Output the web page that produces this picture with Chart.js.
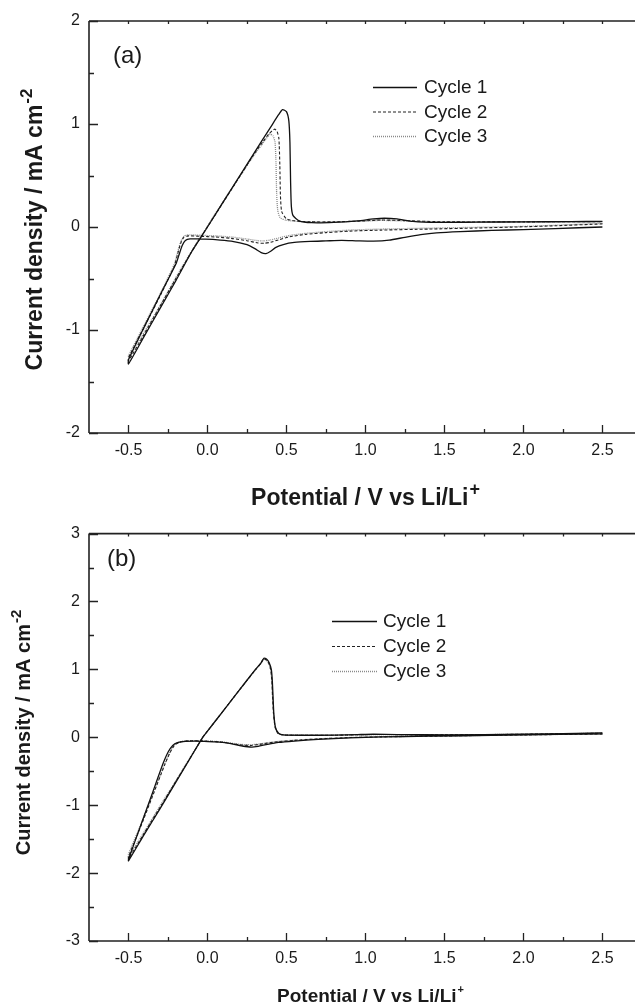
<!DOCTYPE html>
<html lang="en">
<head>
  <meta charset="UTF-8">
  <title>Cyclic voltammograms</title>
  <script src="https://cdn.jsdelivr.net/npm/chart.js"></script>
  <style>
    body {
      margin: 0;
      background: #fff;
      width: 635px;
      height: 1005px;
      overflow: hidden;
      position: relative;
    }
    canvas {
      position: absolute;
      left: 0;
    }
    #chartA { top: 0; }
    #chartB { top: 515px; }
  </style>
</head>
<body>
  <canvas id="chartA" width="635" height="515"></canvas>
  <canvas id="chartB" width="635" height="490"></canvas>

  <script>
    const cycleNames = ['Cycle 1', 'Cycle 2', 'Cycle 3'];
    const xTickValues = [-0.5, -0.25, 0, 0.25, 0.5, 0.75, 1, 1.25, 1.5, 1.75, 2, 2.25, 2.5];
    const yTickValuesA = [-2, -1.5, -1, -0.5, 0, 0.5, 1, 1.5, 2];
    const yTickValuesB = [-3, -2.5, -2, -1.5, -1, -0.5, 0, 0.5, 1, 1.5, 2, 2.5, 3];

    // [potential V, current mA cm-2], cathodic scan from 2.5 V then anodic back
    const a1 = [
      [2.5, 0.0], [2.2, -0.015], [2.0, -0.025], [1.8, -0.033], [1.6, -0.045], [1.45, -0.058], [1.35, -0.075],
      [1.25, -0.1], [1.15, -0.128], [1.05, -0.138], [0.95, -0.135], [0.85, -0.13], [0.75, -0.135], [0.65, -0.14],
      [0.55, -0.15], [0.48, -0.17], [0.43, -0.2], [0.4, -0.235], [0.37, -0.258], [0.34, -0.248], [0.3, -0.21],
      [0.25, -0.172], [0.15, -0.138], [0.05, -0.122], [-0.05, -0.116], [-0.11, -0.115], [-0.14, -0.13],
      [-0.16, -0.18], [-0.18, -0.27], [-0.2, -0.36], [-0.3, -0.66], [-0.4, -0.97], [-0.5, -1.29],
      [-0.5, -1.33], [-0.4, -1.06], [-0.3, -0.79], [-0.2, -0.52], [-0.1, -0.24], [0.0, 0.0], [0.1, 0.244],
      [0.2, 0.486], [0.3, 0.73], [0.4, 0.97], [0.45, 1.09], [0.475, 1.14], [0.5, 1.12], [0.515, 1.03],
      [0.522, 0.82], [0.526, 0.45], [0.531, 0.2], [0.542, 0.11], [0.58, 0.06], [0.66, 0.042], [0.8, 0.045],
      [0.95, 0.06], [1.05, 0.078], [1.12, 0.085], [1.2, 0.078], [1.3, 0.055], [1.45, 0.045], [1.7, 0.047],
      [2.0, 0.05], [2.3, 0.052], [2.5, 0.055]
    ];
    const a2 = [
      [2.5, 0.03], [2.2, 0.012], [2.0, 0.002], [1.7, -0.01], [1.4, -0.02], [1.1, -0.03], [0.9, -0.04],
      [0.75, -0.055], [0.62, -0.072], [0.52, -0.095], [0.45, -0.125], [0.4, -0.148], [0.36, -0.158],
      [0.32, -0.155], [0.25, -0.133], [0.15, -0.11], [0.05, -0.097], [-0.05, -0.09], [-0.12, -0.086],
      [-0.15, -0.1], [-0.17, -0.16], [-0.19, -0.27], [-0.21, -0.38], [-0.3, -0.67], [-0.4, -0.97], [-0.5, -1.27],
      [-0.5, -1.3], [-0.4, -1.04], [-0.3, -0.77], [-0.2, -0.5], [-0.1, -0.24], [0.0, 0.0], [0.1, 0.24],
      [0.2, 0.48], [0.3, 0.72], [0.35, 0.825], [0.39, 0.905], [0.424, 0.95], [0.44, 0.93], [0.452, 0.86],
      [0.458, 0.6], [0.462, 0.3], [0.47, 0.15], [0.5, 0.08], [0.55, 0.06], [0.65, 0.05], [0.8, 0.05],
      [1.0, 0.06], [1.1, 0.068], [1.25, 0.062], [1.5, 0.05], [2.0, 0.05], [2.5, 0.052]
    ];
    const a3 = [
      [2.5, 0.035], [2.0, 0.006], [1.5, -0.008], [1.1, -0.02], [0.9, -0.03], [0.75, -0.045], [0.62, -0.062],
      [0.52, -0.082], [0.45, -0.107], [0.4, -0.125], [0.36, -0.135], [0.32, -0.133], [0.25, -0.117],
      [0.15, -0.097], [0.05, -0.086], [-0.05, -0.08], [-0.12, -0.076], [-0.15, -0.09], [-0.17, -0.145],
      [-0.19, -0.25], [-0.21, -0.36], [-0.3, -0.65], [-0.4, -0.95], [-0.5, -1.25],
      [-0.5, -1.27], [-0.4, -1.02], [-0.3, -0.76], [-0.2, -0.49], [-0.1, -0.23], [0.0, 0.01], [0.1, 0.25],
      [0.2, 0.48], [0.3, 0.71], [0.34, 0.79], [0.37, 0.855], [0.397, 0.9], [0.415, 0.885], [0.428, 0.82],
      [0.434, 0.6], [0.438, 0.32], [0.445, 0.16], [0.46, 0.09], [0.5, 0.065], [0.6, 0.052], [0.8, 0.05],
      [1.0, 0.058], [1.1, 0.064], [1.25, 0.058], [1.5, 0.05], [2.0, 0.05], [2.5, 0.05]
    ];

    const b1 = [
      [2.5, 0.05], [2.2, 0.045], [1.8, 0.03], [1.4, 0.016], [1.1, 0.006], [0.9, -0.008], [0.7, -0.03],
      [0.55, -0.055], [0.45, -0.076], [0.38, -0.104], [0.32, -0.133], [0.28, -0.145], [0.22, -0.128],
      [0.12, -0.082], [0.05, -0.068], [-0.02, -0.06], [-0.08, -0.055], [-0.14, -0.06], [-0.19, -0.08],
      [-0.22, -0.12], [-0.25, -0.22], [-0.28, -0.38], [-0.35, -0.83], [-0.42, -1.28], [-0.5, -1.8],
      [-0.5, -1.82], [-0.4, -1.43], [-0.3, -1.05], [-0.2, -0.66], [-0.1, -0.27], [-0.03, 0.0], [0.0, 0.09],
      [0.1, 0.39], [0.2, 0.69], [0.3, 0.99], [0.34, 1.1], [0.357, 1.165], [0.375, 1.15], [0.39, 1.1],
      [0.404, 1.0], [0.41, 0.85], [0.415, 0.6], [0.42, 0.35], [0.43, 0.15], [0.45, 0.06], [0.48, 0.035],
      [0.6, 0.03], [0.8, 0.032], [0.95, 0.04], [1.05, 0.045], [1.2, 0.04], [1.5, 0.036], [2.0, 0.045], [2.5, 0.065]
    ];
    const b2 = [
      [2.5, 0.05], [2.0, 0.035], [1.5, 0.02], [1.1, 0.006], [0.9, -0.004], [0.7, -0.024], [0.55, -0.045],
      [0.45, -0.064], [0.38, -0.086], [0.32, -0.108], [0.27, -0.12], [0.2, -0.11], [0.12, -0.08],
      [0.05, -0.064], [-0.02, -0.055], [-0.08, -0.05], [-0.14, -0.055], [-0.18, -0.075], [-0.21, -0.12],
      [-0.24, -0.24], [-0.27, -0.4], [-0.35, -0.88], [-0.42, -1.3], [-0.5, -1.76],
      [-0.5, -1.79], [-0.4, -1.41], [-0.3, -1.03], [-0.2, -0.65], [-0.1, -0.27], [-0.03, 0.0], [0.0, 0.09],
      [0.1, 0.39], [0.2, 0.69], [0.3, 0.985], [0.34, 1.095], [0.355, 1.155], [0.372, 1.14], [0.388, 1.09],
      [0.4, 1.0], [0.407, 0.85], [0.412, 0.6], [0.418, 0.35], [0.428, 0.15], [0.445, 0.06], [0.48, 0.035],
      [0.6, 0.03], [0.8, 0.03], [1.0, 0.04], [1.2, 0.04], [1.5, 0.035], [2.0, 0.045], [2.5, 0.06]
    ];
    const b3 = [
      [2.5, 0.05], [2.0, 0.035], [1.5, 0.02], [1.1, 0.007], [0.9, -0.003], [0.7, -0.022], [0.55, -0.042],
      [0.45, -0.06], [0.38, -0.08], [0.32, -0.1], [0.27, -0.11], [0.2, -0.102], [0.12, -0.075],
      [0.05, -0.06], [-0.02, -0.052], [-0.08, -0.048], [-0.14, -0.052], [-0.18, -0.07], [-0.21, -0.11],
      [-0.24, -0.23], [-0.27, -0.39], [-0.35, -0.86], [-0.42, -1.27], [-0.5, -1.72],
      [-0.5, -1.76], [-0.4, -1.39], [-0.3, -1.01], [-0.2, -0.64], [-0.1, -0.26], [-0.03, 0.0], [0.0, 0.09],
      [0.1, 0.39], [0.2, 0.69], [0.3, 0.98], [0.34, 1.09], [0.355, 1.15], [0.372, 1.135], [0.388, 1.085],
      [0.4, 0.99], [0.407, 0.84], [0.412, 0.6], [0.418, 0.35], [0.428, 0.15], [0.445, 0.06], [0.48, 0.035],
      [0.6, 0.03], [0.8, 0.03], [1.0, 0.038], [1.2, 0.038], [1.5, 0.035], [2.0, 0.045], [2.5, 0.06]
    ];

    const fam = "'Liberation Sans', Arial, sans-serif";
    const ink = '#1a1a1a';
    const lineStyles = [
      { borderColor: '#111', borderWidth: 1.3, borderDash: [] },
      { borderColor: '#222', borderWidth: 1.1, borderDash: [3, 2] },
      { borderColor: '#8a8a8a', borderWidth: 1.3, borderDash: [1, 1] }
    ];

    const isHalf = v => Math.round(v * 4) % 2 === 0;

    // axis lines with inward ticks (left, bottom, top; no right spine)
    const frame = {
      id: 'frame',
      afterDatasetsDraw(chart) {
        const { ctx, chartArea: a, scales: { x, y } } = chart;
        ctx.save();
        ctx.strokeStyle = '#222';
        ctx.lineWidth = 1.6;
        ctx.beginPath();
        ctx.moveTo(a.left, a.top);
        ctx.lineTo(a.left, a.bottom);
        ctx.moveTo(a.left, a.bottom);
        ctx.lineTo(chart.width, a.bottom);
        ctx.moveTo(a.left, a.top);
        ctx.lineTo(chart.width, a.top);
        ctx.stroke();
        ctx.lineWidth = 1.3;
        ctx.beginPath();
        x.ticks.forEach(t => {
          const px = Math.round(x.getPixelForValue(t.value)) + 0.5;
          ctx.moveTo(px, a.bottom);
          ctx.lineTo(px, a.bottom - (isHalf(t.value) ? 8 : 4));
          ctx.moveTo(px, a.top);
          ctx.lineTo(px, a.top + 3);
        });
        y.ticks.forEach(t => {
          const py = Math.round(y.getPixelForValue(t.value)) + 0.5;
          ctx.moveTo(a.left, py);
          ctx.lineTo(a.left + (Number.isInteger(t.value) ? 9 : 5), py);
        });
        ctx.stroke();
        ctx.restore();
      }
    };

    function titleText(ctx, base, sup, cx, cy, size, supScale, rotate) {
      ctx.save();
      ctx.translate(cx, cy);
      if (rotate) ctx.rotate(-Math.PI / 2);
      const f1 = 'bold ' + size + 'px ' + fam;
      const f2 = 'bold ' + Math.round(size * supScale) + 'px ' + fam;
      ctx.font = f1;
      const w1 = ctx.measureText(base).width;
      ctx.font = f2;
      const w2 = ctx.measureText(sup).width;
      const x0 = -(w1 + w2) / 2;
      ctx.fillStyle = ink;
      ctx.textAlign = 'left';
      ctx.textBaseline = 'alphabetic';
      ctx.font = f1;
      ctx.fillText(base, x0, 0);
      ctx.font = f2;
      ctx.fillText(sup, x0 + w1 + 1, -size * 0.45);
      ctx.restore();
    }

    // titles, panel letter and legend
    const decor = {
      id: 'decor',
      afterDraw(chart, args, o) {
        const { ctx } = chart;
        titleText(ctx, 'Potential / V vs Li/Li', '+', o.xt[0], o.xt[1], o.xt[2], o.xt[3], false);
        titleText(ctx, 'Current density / mA cm', '-2', o.yt[0], o.yt[1], o.yt[2], o.yt[3], true);

        ctx.save();
        ctx.fillStyle = ink;
        ctx.font = o.panel[3] + 'px ' + fam;
        ctx.textBaseline = 'middle';
        ctx.fillText(o.panel[0], o.panel[1], o.panel[2]);

        ctx.font = o.legend.size + 'px ' + fam;
        chart.data.datasets.forEach((ds, i) => {
          const ly = o.legend.y + i * o.legend.gap;
          ctx.strokeStyle = ds.borderColor;
          ctx.lineWidth = ds.borderWidth;
          ctx.setLineDash(ds.borderDash);
          ctx.beginPath();
          ctx.moveTo(o.legend.x0, ly + 0.5);
          ctx.lineTo(o.legend.x1, ly + 0.5);
          ctx.stroke();
          ctx.setLineDash([]);
          ctx.fillText(ds.label, o.legend.tx, ly + 1);
        });
        ctx.restore();
      }
    };

    function makeChart(id, series, yTicks, yMin, yMax, opt) {
      const datasets = series.map((pts, i) => Object.assign({
        label: cycleNames[i],
        data: pts.map(p => ({ x: p[0], y: p[1] })),
        showLine: true,
        pointRadius: 0,
        fill: false,
        tension: 0.2
      }, lineStyles[i]));

      return new Chart(document.getElementById(id), {
        type: 'scatter',
        data: { datasets },
        options: {
          responsive: false,
          animation: false,
          layout: { padding: { top: opt.top, right: 1, left: 0, bottom: 0 } },
          plugins: {
            legend: { display: false },
            tooltip: { enabled: false },
            decor: opt.decor
          },
          scales: {
            x: {
              type: 'linear',
              min: -0.75,
              max: 2.7,
              afterBuildTicks: s => { s.ticks = xTickValues.map(v => ({ value: v })); },
              afterFit: s => { s.height = opt.xh; },
              grid: { display: false, drawTicks: false },
              border: { display: false },
              ticks: {
                padding: 8,
                color: ink,
                autoSkip: false,
                maxRotation: 0,
                font: { family: fam, size: 16 },
                callback: v => (isHalf(v) ? v.toFixed(1) : '')
              }
            },
            y: {
              type: 'linear',
              min: yMin,
              max: yMax,
              afterBuildTicks: s => { s.ticks = yTicks.map(v => ({ value: v })); },
              afterFit: s => { s.width = 89; },
              grid: { display: false, drawTicks: false },
              border: { display: false },
              ticks: {
                padding: 9,
                color: ink,
                autoSkip: false,
                font: { family: fam, size: 16 },
                callback: v => (Number.isInteger(v) ? String(v) : '')
              }
            }
          }
        },
        plugins: [frame, decor]
      });
    }

    makeChart('chartA', [a1, a2, a3], yTickValuesA, -2, 2, {
      top: 21,
      xh: 82,
      decor: {
        xt: [365, 505, 23, 0.8],
        yt: [42, 230, 23, 0.75],
        panel: ['(a)', 113, 56, 24],
        legend: { x0: 373, x1: 417, tx: 424, y: 87, gap: 24.5, size: 19 }
      }
    });

    makeChart('chartB', [b1, b2, b3], yTickValuesB, -3, 3, {
      top: 14,
      xh: 64,
      decor: {
        xt: [370, 487, 19, 0.6],
        yt: [30, 218, 20, 0.75],
        panel: ['(b)', 107, 44, 24],
        legend: { x0: 332, x1: 377, tx: 383, y: 106, gap: 25, size: 19 }
      }
    });
  </script>
</body>
</html>
